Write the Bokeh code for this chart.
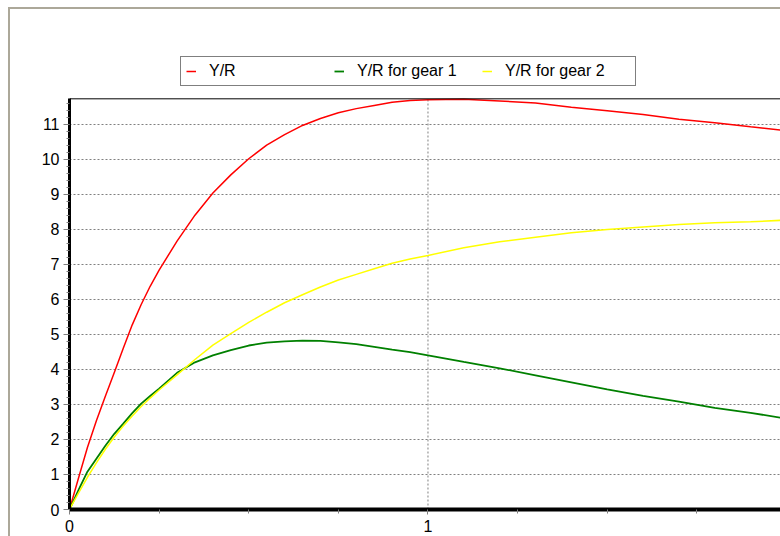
from bokeh.plotting import figure
from bokeh.models import Range1d, FixedTicker, Legend, LegendItem, Spacer, Span
from bokeh.layouts import row, column
from bokeh.embed import file_html
from bokeh.resources import INLINE

# ---- data ----
x_vals = [0, 0.025, 0.05, 0.075, 0.1, 0.125, 0.15, 0.175, 0.2, 0.225, 0.25, 0.3, 0.35,
          0.4, 0.45, 0.5, 0.55, 0.6, 0.65, 0.7, 0.75, 0.8, 0.85, 0.9, 0.95,
          1.0, 1.1, 1.2, 1.3, 1.4, 1.5, 1.6, 1.7, 1.8, 1.9, 2.0]

yr_total = [0, 0.89, 1.77, 2.53, 3.23, 3.91, 4.6, 5.27, 5.85, 6.37, 6.83, 7.66, 8.4,
            9.03, 9.55, 10.01, 10.4, 10.7, 10.96, 11.16, 11.32, 11.44, 11.53, 11.62, 11.67,
            11.69, 11.71, 11.66, 11.6, 11.48, 11.38, 11.27, 11.14, 11.04, 10.92, 10.81]

yr_gear1 = [0, 0.55, 1.08, 1.45, 1.82, 2.16, 2.45, 2.75, 3.02, 3.24, 3.45, 3.9, 4.2,
            4.4, 4.55, 4.68, 4.76, 4.8, 4.82, 4.81, 4.77, 4.72, 4.64, 4.56, 4.49,
            4.40, 4.21, 4.03, 3.83, 3.63, 3.43, 3.24, 3.08, 2.9, 2.76, 2.59]

yr_gear2 = [0, 0.47, 0.92, 1.33, 1.72, 2.07, 2.38, 2.67, 2.94, 3.18, 3.41, 3.84, 4.28,
            4.69, 5.02, 5.34, 5.63, 5.9, 6.13, 6.35, 6.55, 6.71, 6.87, 7.03, 7.15,
            7.25, 7.47, 7.64, 7.77, 7.9, 7.99, 8.06, 8.13, 8.18, 8.21, 8.26]

series_labels = ["Y/R", "Y/R for gear 1", "Y/R for gear 2"]
series_colors = ["#ff0000", "#008000", "#ffff00"]

x_major_ticks = [0, 1, 2]
x_minor_ticks = [0.25, 0.5, 0.75, 1.25, 1.5, 1.75]
y_major_ticks = [0, 1, 2, 3, 4, 5, 6, 7, 8, 9, 10, 11]
y_minor_ticks = [round(i * 0.2, 1) for i in range(0, 59)]

# axis extents
x_end = 1.989
y_top = 11.72          # top edge of the plotting box
y_view_top = 13.955    # extra room above the box for the legend

# ---- figure ----
p = figure(width=772, height=529, output_backend="svg", toolbar_location=None,
           x_range=Range1d(0, x_end), y_range=Range1d(0, y_view_top),
           min_border_left=59, min_border_top=11, min_border_bottom=29,
           min_border_right=0)
p.background_fill_color = "white"
p.border_fill_color = "white"
p.outline_line_color = None
p.styles = {"border-left": "2px solid #aca899", "border-top": "2px solid #aca899",
            "box-sizing": "border-box"}

p.xaxis.ticker = FixedTicker(ticks=x_major_ticks, minor_ticks=x_minor_ticks)
p.yaxis.ticker = FixedTicker(ticks=y_major_ticks, minor_ticks=y_minor_ticks)
p.yaxis.bounds = (0, y_top)

for ax in (p.xaxis[0], p.yaxis[0]):
    ax.axis_line_color = "black"
    ax.major_tick_line_color = "#808080"
    ax.minor_tick_line_color = "#808080"
    ax.major_tick_in = 0
    ax.minor_tick_in = 0
    ax.major_label_text_font = "Liberation Sans"
    ax.major_label_text_font_size = "16px"
    ax.major_label_text_color = "black"

p.yaxis.axis_line_width = 3
p.xaxis.axis_line_width = 4
p.yaxis.major_tick_out = 6
p.yaxis.minor_tick_out = 3
p.xaxis.major_tick_out = 5
p.xaxis.minor_tick_out = 4
p.yaxis.major_label_standoff = 4
p.xaxis.major_label_standoff = 5

# horizontal dotted grid
p.ygrid.grid_line_color = "#808080"
p.ygrid.grid_line_dash = "2 2"
p.ygrid.grid_line_width = 1
p.ygrid.bounds = (0, y_top)
# vertical dotted grid only inside the plotting box
p.xgrid.visible = False
grid_x = [t for t in x_major_ticks if 0 < t < x_end]
p.segment(x0=grid_x, y0=[0] * len(grid_x), x1=grid_x, y1=[y_top] * len(grid_x),
          line_color="#808080", line_dash="2 2", line_width=1)

# top edge of the plotting box
p.add_layout(Span(location=y_top, dimension="width", line_color="black", line_width=1))

renderers = []
for ys, col, w in zip([yr_total, yr_gear1, yr_gear2], series_colors, [1.5, 1.8, 1.5]):
    renderers.append(p.line(x_vals, ys, line_color=col, line_width=w))

legend = Legend(
    items=[LegendItem(label=lbl, renderers=[r]) for lbl, r in zip(series_labels, renderers)],
    orientation="horizontal", location=(111, 423),
    padding=5, spacing=0, margin=0,
    glyph_width=10, glyph_height=14, label_standoff=13, label_width=125, label_height=14,
    label_text_font="Liberation Sans", label_text_font_size="16px",
    label_text_color="black",
    border_line_color="black", border_line_width=1,
    background_fill_color="white", background_fill_alpha=1.0)
p.add_layout(legend, "center")

layout = row(Spacer(width=8, height=536), column(Spacer(width=772, height=7), p))

open("out.html", "w").write(file_html(layout, INLINE))
